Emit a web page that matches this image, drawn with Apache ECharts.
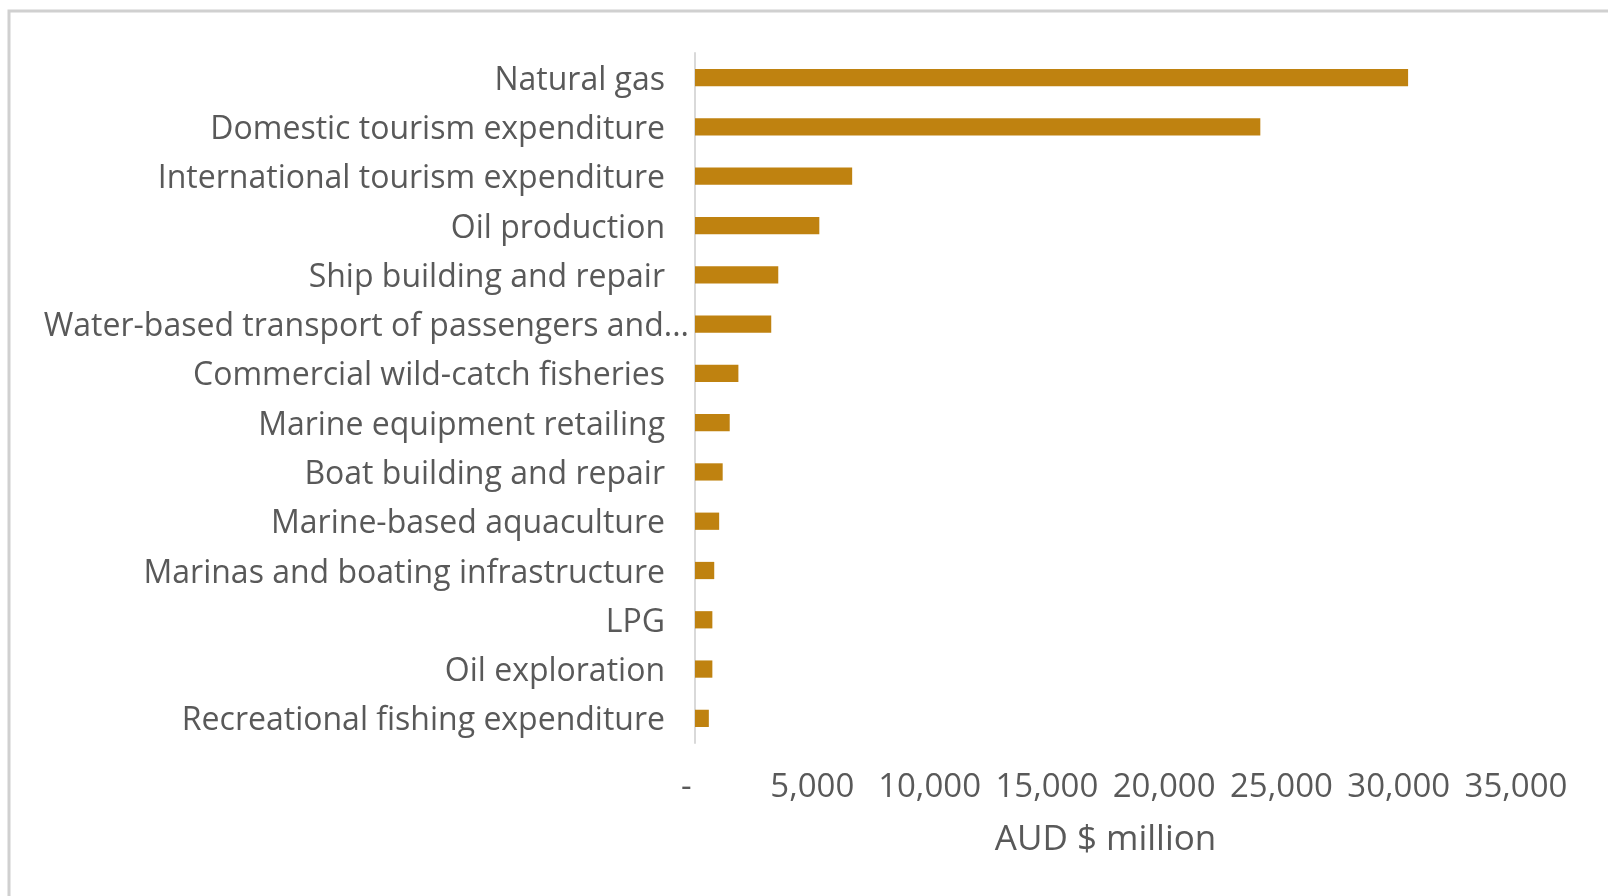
<!DOCTYPE html>
<html>
<head>
<meta charset="utf-8">
<script src="https://cdn.jsdelivr.net/npm/echarts@6/dist/echarts.min.js"></script>
<style>
  html, body { margin: 0; padding: 0; background: #ffffff; }
  #chart { width: 1608px; height: 896px; }
</style>
</head>
<body>
<div id="chart"></div>
<script>
// Marine industry output, AUD $ million (top to bottom as listed)
const categories = [
  'Natural gas',
  'Domestic tourism expenditure',
  'International tourism expenditure',
  'Oil production',
  'Ship building and repair',
  'Water-based transport of passengers and freight',
  'Commercial wild-catch fisheries',
  'Marine equipment retailing',
  'Boat building and repair',
  'Marine-based aquaculture',
  'Marinas and boating infrastructure',
  'LPG',
  'Oil exploration',
  'Recreational fishing expenditure'
];
const values = [30400, 24100, 6700, 5300, 3550, 3250, 1850, 1480, 1180, 1030, 820, 740, 740, 590];
const valueTicks = [0, 5000, 10000, 15000, 20000, 25000, 30000, 35000];

const textColor = '#595959';
const fontFamily = '"Open Sans", "Noto Sans", sans-serif';

// long names are cut short and sit a little closer to the axis
const categoryData = categories.map(name => name.length > 40
  ? { value: name, textStyle: {
      width: 648, overflow: 'truncate', ellipsis: '...',
      verticalAlign: 'top', lineHeight: 6, padding: [0, -24, 0, 0] } }
  : name);

const chart = echarts.init(document.getElementById('chart'));
chart.setOption({
  animation: false,
  backgroundColor: '#ffffff',
  graphic: [
    // frame edges of the chart area
    { type: 'rect', shape: { x: 9, y: 11, width: 1620, height: 900 },
      style: { fill: 'none', stroke: '#d0d0d0', lineWidth: 3 } }
  ],
  grid: { left: 695, right: 92, top: 53, bottom: 153, containLabel: false },
  xAxis: {
    type: 'value',
    min: valueTicks[0],
    max: valueTicks[valueTicks.length - 1],
    interval: valueTicks[1] - valueTicks[0],
    name: 'AUD $ million',
    nameLocation: 'middle',
    nameGap: 80,
    nameTextStyle: { color: textColor, fontSize: 35, fontFamily },
    axisLine: { show: false },
    axisTick: { show: false },
    splitLine: { show: false },
    axisLabel: {
      color: textColor, fontSize: 33, fontFamily, margin: 28,
      formatter: v => v === 0 ? '-  ' : v.toLocaleString('en-US')
    }
  },
  yAxis: {
    type: 'category',
    data: categoryData,
    inverse: true,
    axisLine: { show: true, lineStyle: { color: '#d9d9d9', width: 2 } },
    axisTick: { show: false },
    axisLabel: {
      color: textColor, fontSize: 32, fontFamily, margin: 30,
      // nudges each name slightly below its bar's centre line
      verticalAlign: 'top', lineHeight: 6
    }
  },
  series: [{
    type: 'bar',
    data: values,
    barCategoryGap: '65%',
    itemStyle: { color: '#BF8210' }
  }]
});
</script>
</body>
</html>
